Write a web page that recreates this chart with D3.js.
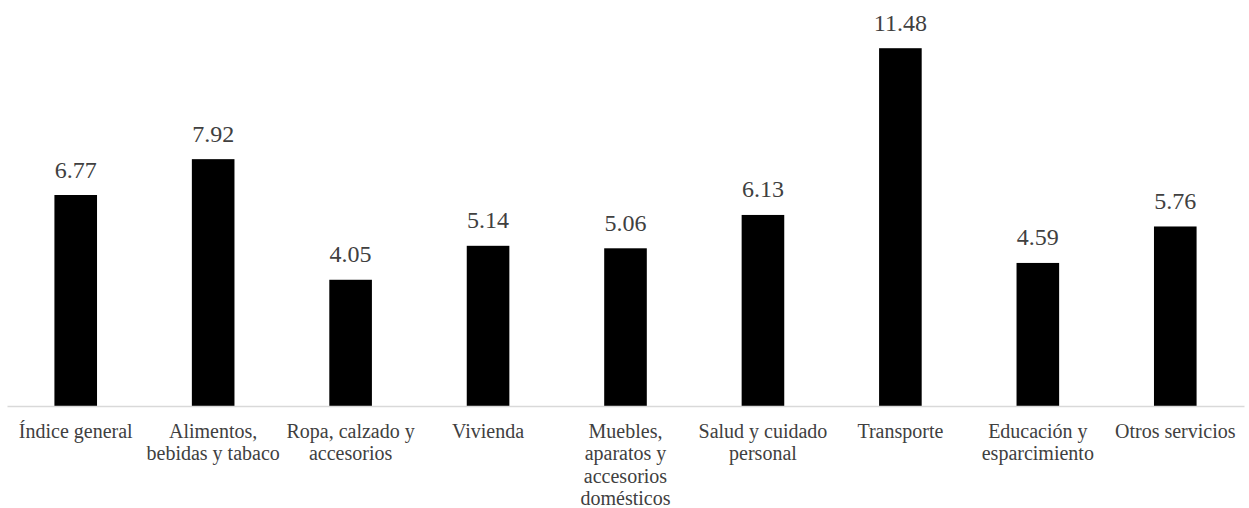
<!DOCTYPE html>
<html>
<head>
<meta charset="utf-8">
<script src="https://cdn.jsdelivr.net/npm/d3@7"></script>
<style>
  html, body { margin: 0; padding: 0; background: #fff; }
  svg { display: block; }
</style>
</head>
<body>
<svg id="chart" width="1249" height="508"></svg>
<script>
// Category labels, already split into the lines they are shown on
const categories = [
  ["Índice general"],
  ["Alimentos,", "bebidas y tabaco"],
  ["Ropa, calzado y", "accesorios"],
  ["Vivienda"],
  ["Muebles,", "aparatos y", "accesorios", "domésticos"],
  ["Salud y cuidado", "personal"],
  ["Transporte"],
  ["Educación y", "esparcimiento"],
  ["Otros servicios"]
];
const values = [6.77, 7.92, 4.05, 5.14, 5.06, 6.13, 11.48, 4.59, 5.76];
const yDomain = [0, 12];

const svg = d3.select("#chart");
const textColor = "#404040";
const fontFamily = "\"Liberation Serif\", \"Times New Roman\", serif";

const x = d3.scaleBand()
  .domain(d3.range(categories.length))
  .range([7, 1244])
  .paddingInner(0.69)
  .paddingOuter(0.345);

const y = d3.scaleLinear()
  .domain(yDomain)
  .range([406, 32]);

// Bars
svg.append("g")
  .selectAll("rect")
  .data(values)
  .join("rect")
  .attr("x", (d, i) => x(i))
  .attr("y", d => y(d))
  .attr("width", x.bandwidth())
  .attr("height", d => y(0) - y(d))
  .attr("fill", "#000");

// Category axis (baseline only, labels drawn separately)
const axis = svg.append("g")
  .attr("transform", `translate(0,${y(0)})`)
  .call(d3.axisBottom(x).tickSize(0).tickSizeOuter(0).tickFormat(""));
axis.select(".domain").attr("stroke", "#d9d9d9").attr("stroke-width", 1.3);
axis.selectAll(".tick").remove();

// Value labels above the bars
svg.append("g")
  .selectAll("text")
  .data(values)
  .join("text")
  .attr("x", (d, i) => x(i) + x.bandwidth() / 2)
  .attr("y", d => y(d) - 17.5)
  .attr("text-anchor", "middle")
  .style("font-family", fontFamily)
  .style("font-size", "24px")
  .attr("fill", textColor)
  .text(d => d.toFixed(2));

// Multi-line category labels
const labels = svg.append("g")
  .selectAll("text")
  .data(categories)
  .join("text")
  .attr("text-anchor", "middle")
  .style("font-family", fontFamily)
  .style("font-size", "20px")
  .attr("fill", textColor)
  .attr("transform", (d, i) => `translate(${x(i) + x.bandwidth() / 2},${y(0) + 32})`);

labels.selectAll("tspan")
  .data(d => d)
  .join("tspan")
  .attr("x", 0)
  .attr("y", (d, j) => j * 22.3)
  .text(d => d);
</script>
</body>
</html>
